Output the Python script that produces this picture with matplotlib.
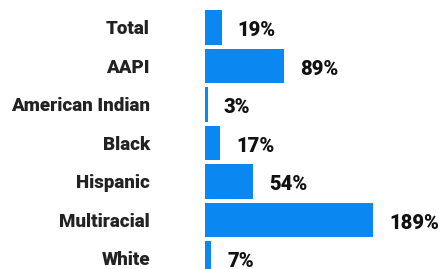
import matplotlib.pyplot as plt

categories = ['Total', 'AAPI', 'American Indian', 'Black', 'Hispanic', 'Multiracial', 'White']
values = [19, 89, 3, 17, 54, 189, 7]
labels = ['19%', '89%', '3%', '17%', '54%', '189%', '7%']

plt.rcParams['font.family'] = ['Roboto', 'DejaVu Sans']

fig = plt.figure(figsize=(4.45, 2.69), dpi=100)
ax = fig.add_axes([205 / 445, 0, 240 / 445, 1])

pos = list(range(len(categories)))
ax.barh(pos, values, height=0.9, color='#0a87f0')

for p, v, lab in zip(pos, values, labels):
    ax.annotate(lab, (v, p), xytext=(11.5, -2.5), textcoords='offset points',
                ha='left', va='center', fontsize=14.5, fontweight='heavy', color='#111111')

ax.set_xlim(0, 270)
ax.set_ylim(6.273, -0.714)
ax.set_yticks(pos)
ax.set_yticklabels(categories, fontsize=13.5, fontweight='heavy', color='#222222')
ax.tick_params(axis='y', length=0, pad=39.6)
ax.set_xticks([])
for s in ax.spines.values():
    s.set_visible(False)

fig.savefig('out.png', dpi=100)
